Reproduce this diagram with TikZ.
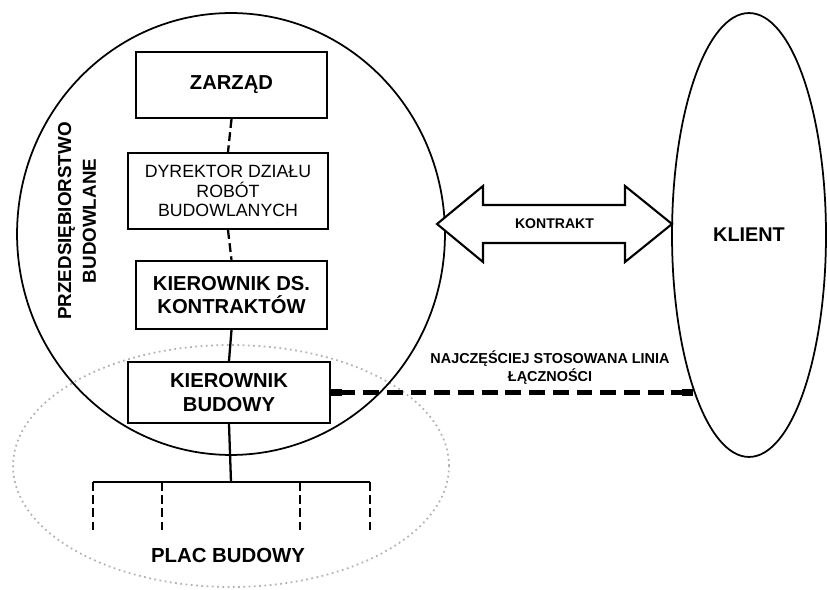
\documentclass[tikz,border=0pt]{standalone}
\usepackage{fontspec}
\setmainfont{Liberation Sans}
\usetikzlibrary{shapes.geometric,arrows.meta}

\begin{document}
\begin{tikzpicture}[x=0.02cm, y=-0.02cm,
                    box/.style={draw, line width=1.3pt, fill=white, align=center, inner sep=2pt,
                                font=\fontsize{11.5}{13.6}\selectfont\bfseries},
                    chain/.style={line width=1.3pt, dash pattern=on 5pt off 2.5pt},
                    tree/.style={line width=1.3pt},
                    link/.style={line width=2.6pt, dash pattern=on 9pt off 4.5pt,
                                 {Square[length=6pt,width=4.5pt]}-{Square[length=6pt,width=4.5pt]}}]
                    \useasboundingbox (0,0) rectangle (827,590);

                    \draw[gray!60, line width=1pt, dotted] (231,466) ellipse [x radius=4.36cm, y radius=2.42cm];
                    \draw[line width=1pt] (231,234) ellipse [x radius=4.28cm, y radius=4.42cm];
                    \node[rotate=90, align=center, font=\fontsize{10.7}{14}\selectfont\bfseries] (firma) at (77,221) {PRZEDSIĘBIORSTWO\\BUDOWLANE};

                    \node[box, minimum width=3.82cm, minimum height=1.32cm] (zarzad) at (231.5,85) {ZARZĄD};
                    \node[box, minimum width=4cm, minimum height=1.52cm, font=\fontsize{10.1}{11.3}\selectfont] (dyrektor) at (228,191) {DYREKTOR DZIAŁU\\ROBÓT\\BUDOWLANYCH};
                    \node[box, minimum width=3.82cm, minimum height=1.36cm] (kds) at (231.5,295) {KIEROWNIK DS.\\KONTRAKTÓW};
                    \node[box, minimum width=4.04cm, minimum height=1.22cm] (kb) at (229,392.5) {KIEROWNIK\\BUDOWY};

                    \draw[chain] (zarzad.south) -- (dyrektor.north);
                    \draw[chain] (dyrektor.south) -- (kds.north);
                    \draw[tree] (kds.south) -- (kb.north);

                    \coordinate (bar) at (231,482);
                    \draw[tree] (kb.south) -- (bar);
                    \draw[tree] (93,482) -- (370,482);
                    \foreach \x in {93,162,300,370}
                        \draw[chain] (\x,482) -- (\x,533);
                    \node[font=\fontsize{11.6}{14}\selectfont\bfseries] (plac) at (228,555) {PLAC BUDOWY};

                    \node[ellipse, draw, line width=1pt, minimum width=3.08cm, minimum height=8.88cm,
                          font=\fontsize{11.3}{14}\selectfont\bfseries] (klient) at (749,235) {KLIENT};

                    \draw[line width=1.2pt, fill=white] (437,224) -- (483,186) -- (483,205) -- (625,205) -- (625,186)
                        -- (672,224) -- (625,262) -- (625,243) -- (483,243) -- (483,262) -- cycle;
                    \node[font=\fontsize{8}{9}\selectfont\bfseries] (kontrakt) at (554.5,224) {KONTRAKT};

                    \node[fill=white, align=center, inner sep=3pt,
                          font=\fontsize{8.2}{10.2}\selectfont\bfseries] (linia) at (550,368) {NAJCZĘŚCIEJ STOSOWANA LINIA\\ŁĄCZNOŚCI};
                    \draw[link] (kb.east) -- (kb.east -| klient.-110);
                \end{tikzpicture}
\end{document}
